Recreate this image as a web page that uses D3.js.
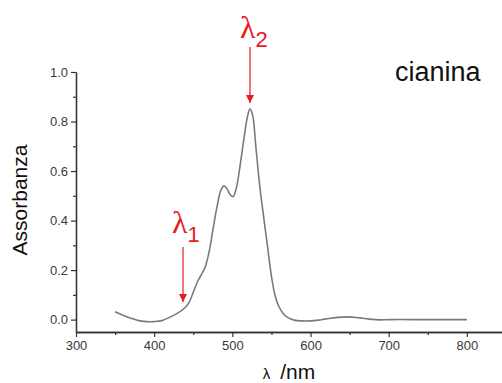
<!DOCTYPE html>
<html><head><meta charset="utf-8">
<script src="https://cdn.jsdelivr.net/npm/d3@7/dist/d3.min.js"></script>
<style>body{margin:0;background:#fff}svg{display:block}</style>
</head><body>
<svg id="c" width="502" height="383"></svg>
<script>
const wavelength = [350,360,370,380,390,400,410,420,430,440,445,450,455,460,465,470,475,480,485,489,493,497,501,505,510,515,519,522.5,526,530,535,540,545,550,555,560,565,570,580,590,600,610,620,635,648,660,675,690,700,750,800];
const absorbance = [0.032,0.018,0.006,-0.004,-0.008,-0.008,-0.004,0.01,0.026,0.05,0.072,0.11,0.15,0.18,0.21,0.27,0.36,0.45,0.52,0.54,0.53,0.505,0.497,0.53,0.625,0.735,0.815,0.851,0.825,0.70,0.54,0.415,0.295,0.175,0.092,0.05,0.025,0.01,-0.003,-0.005,-0.005,-0.002,0.003,0.009,0.011,0.008,0.002,-0.001,0.0,0.0,0.0];
const xTicks = [300,400,500,600,700,800];
const xMinor = [350,450,550,650,750,850];
const yTicks = [0.0,0.2,0.4,0.6,0.8,1.0];
const yMinor = [0.1,0.3,0.5,0.7,0.9];
const annotations = [{sym:"λ",sub:"1",at:437},{sym:"λ",sub:"2",at:522.5}];

const svg = d3.select("#c");
const x = d3.scaleLinear().domain([300,850]).range([76,506]);
const y = d3.scaleLinear().domain([-0.05,1.0]).range([332,72]);
const axisColor = "#333";

const gx = svg.append("g").attr("transform","translate(0,332)");
gx.call(d3.axisBottom(x).tickValues(xMinor).tickSize(3).tickSizeOuter(0).tickFormat(""));
const gx2 = svg.append("g").attr("transform","translate(0,332)");
gx2.call(d3.axisBottom(x).tickValues(xTicks).tickSize(5).tickSizeOuter(0).tickFormat(d3.format("d")).tickPadding(4));
const gy = svg.append("g").attr("transform","translate(76,0)");
gy.call(d3.axisLeft(y).tickValues(yMinor).tickSize(3).tickSizeOuter(0).tickFormat(""));
const gy2 = svg.append("g").attr("transform","translate(76,0)");
gy2.call(d3.axisLeft(y).tickValues(yTicks).tickSize(5).tickSizeOuter(0).tickFormat(d3.format(".1f")).tickPadding(3));
svg.selectAll(".domain").attr("stroke",axisColor).attr("stroke-width",1.3);
svg.selectAll(".tick line").attr("stroke",axisColor).attr("stroke-width",1.2);
svg.selectAll(".tick text").attr("fill","#3a3a3a").attr("font-family","Liberation Sans, Arial, sans-serif").attr("font-size",13);

const data = wavelength.map((w,i)=>({w, a:absorbance[i]}));
svg.append("path").datum(data)
  .attr("fill","none").attr("stroke","#7a7a7a").attr("stroke-width",1.6)
  .attr("d", d3.line().x(d=>x(d.w)).y(d=>y(d.a)).curve(d3.curveCatmullRom.alpha(0.5)));

svg.append("text").attr("transform","translate(27,200) rotate(-90)")
  .attr("text-anchor","middle").attr("font-family","Liberation Sans, Arial, sans-serif")
  .attr("font-size",21).attr("fill","#111").text("Assorbanza");
const xl = svg.append("text").attr("x",289).attr("y",379).attr("text-anchor","middle")
  .attr("font-family","Liberation Sans, Arial, sans-serif").attr("font-size",21).attr("fill","#111");
xl.append("tspan").attr("font-size",15).text("λ");
xl.append("tspan").attr("dx",10).text("/nm");

svg.append("text").attr("x",395).attr("y",81).attr("font-family","Liberation Sans, Arial, sans-serif")
  .attr("font-size",27).attr("fill","#111").text("cianina");

const red = "#e8191f";
const defs = svg.append("defs");
defs.append("marker").attr("id","ah").attr("viewBox","0 0 10 10").attr("refX",10).attr("refY",5)
  .attr("markerWidth",8).attr("markerHeight",8).attr("markerUnits","userSpaceOnUse").attr("orient","auto")
  .append("path").attr("d","M0,0L10,5L0,10Z").attr("fill",red);
const ann = [
  {a:annotations[0], tx:172, ty:233, y0:247, y1:302, ax:183},
  {a:annotations[1], tx:240, ty:38, y0:47, y1:103, ax:250}
];
ann.forEach(o=>{
  const t = svg.append("text").attr("x",o.tx).attr("y",o.ty).attr("fill",red)
    .attr("font-family","Liberation Serif, serif").attr("font-size",32);
  t.append("tspan").text(o.a.sym);
  t.append("tspan").attr("font-family","Liberation Sans, Arial, sans-serif").attr("font-size",22).attr("dy",9).text(o.a.sub);
  svg.append("line").attr("x1",o.ax).attr("x2",o.ax).attr("y1",o.y0).attr("y2",o.y1)
    .attr("stroke",red).attr("stroke-width",1.2).attr("marker-end","url(#ah)");
});
</script>
</body></html>
